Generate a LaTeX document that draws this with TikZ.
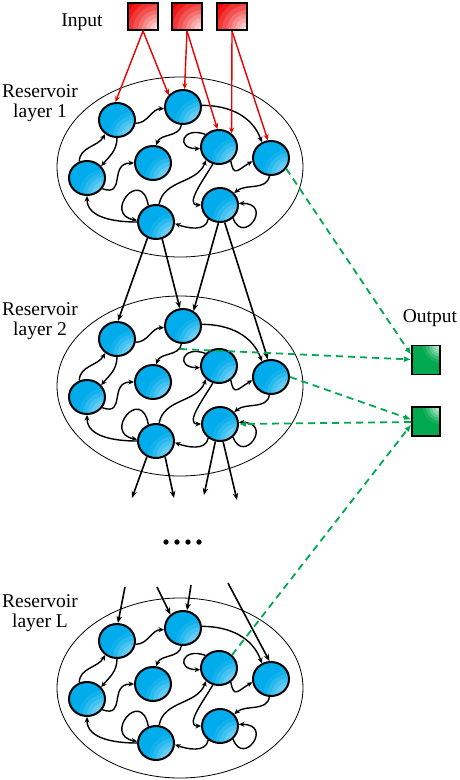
\documentclass[tikz,border=0pt]{standalone}
\usepackage{fontspec}
\setmainfont{Liberation Serif}
\usetikzlibrary{arrows.meta,shapes.geometric}

\definecolor{cellblue}{RGB}{0,172,236}
\definecolor{cellpale}{RGB}{200,236,252}
\definecolor{inred}{RGB}{238,0,0}
\definecolor{inpale}{RGB}{255,240,240}
\definecolor{outgreen}{RGB}{0,168,78}
\definecolor{outpale}{RGB}{225,248,232}
\definecolor{readgreen}{RGB}{0,168,80}

\tikzstyle{cell} = [ellipse, minimum width=36pt, minimum height=34pt, inner sep=0pt, draw=black, line width=2pt, fill=cellblue, path picture={\foreach \rr/\pp in {26/8,22/20,18/34,14/48,10/62,6/78} \fill[cellpale!\pp!cellblue] (path picture bounding box.south east) circle (\rr);}]
\tikzstyle{inbox} = [rectangle, minimum width=30pt, minimum height=27pt, draw=black, line width=2pt, fill=inred, path picture={\foreach \rr/\pp in {40/0,35/10,30/22,25/34,20/46,16/58,12/70,8/82,4/92} \fill[inpale!\pp!inred] (path picture bounding box.south east) circle (\rr);}]
\tikzstyle{outbox} = [rectangle, minimum width=28pt, minimum height=29pt, draw=black, line width=1.8pt, fill=outgreen, path picture={\foreach \rr/\pp in {17/10,14/25,11/42,8/60,5/78,2/90} \fill[outpale!\pp!outgreen] (path picture bounding box.north east) circle (\rr);}]
\tikzstyle{layertext} = [align=center, font=\fontsize{19.5}{20.5}\selectfont]
\tikzstyle{link} = [line width=1.4pt, ->, >={Stealth[length=5.5pt,width=5pt]}]
\tikzstyle{feed} = [line width=1.4pt, red!92!black, ->, >={Stealth[length=6pt,width=5pt]}]
\tikzstyle{deep} = [line width=1.6pt, ->, >={Stealth[length=7pt,width=5.5pt]}]
\tikzstyle{readout} = [line width=1.8pt, readgreen, dash pattern=on 7pt off 5pt, ->, >={Latex[length=7pt,width=6pt]}]

\begin{document}
\begin{tikzpicture}[x=1pt, y=1pt]
    \useasboundingbox (0,0) rectangle (460,-780);

    % Reservoir layers
    \foreach \l/\yc in {1/167,2/386,L/688}{
        \begin{scope}[shift={(180,-\yc)}]
            \draw [line width=0.8pt] (0,0) ellipse (123 and 90);
            \node (a\l) [cell] at (-63,47) {};
            \node (b\l) [cell] at (3,60) {};
            \node (c\l) [cell] at (-27,4) {};
            \node (d\l) [cell] at (-93,-11) {};
            \node (e\l) [cell] at (39,20) {};
            \node (f\l) [cell] at (91,9) {};
            \node (g\l) [cell] at (-24,-55) {};
            \node (h\l) [cell] at (40,-38) {};

            \draw [link] (a\l.-10) to[out=0,in=180] (b\l.185);
            \draw [link] (b\l.-95) to[out=-100,in=70] (c\l.80);
            \draw [link] (b\l.5) to[out=0,in=110] (f\l.120);
            \draw [link] (d\l.115) to[out=90,in=-120] (a\l.-130);
            \draw [link] (a\l.-90) to[out=-90,in=50] (d\l.40);
            \draw [link] (d\l.-35) to[out=-20,in=180,looseness=1.6] (c\l.180);
            \draw [link] (g\l.180) to[out=180,in=-90] (d\l.-90);
            \draw [link] (g\l.115) .. controls +(100:40) and +(170:35) .. (g\l.175);
            \draw [link] (g\l.80) to[out=80,in=-110] (e\l.-135);
            \draw [link] (h\l.-130) to[out=-100,in=-20] (g\l.-5);
            \draw [link] (e\l.137) .. controls +(160:25) and +(180:25) .. (e\l.185);
            \draw [link] (e\l.-110) to[out=-120,in=180] (h\l.180);
            \draw [link] (e\l.-50) to[out=-80,in=-150,looseness=2] (f\l.-170);
            \draw [link] (f\l.-95) to[out=-100,in=40] (h\l.40);
            \draw [link] (h\l.-45) .. controls +(-70:30) and +(0:35) .. (h\l.5);
        \end{scope}
    }

    % Labels
    \node (input) [layertext] at (82,-22) {Input};
    \node (res1) [layertext] at (40,-103) {Reservoir\\layer 1};
    \node (res2) [layertext] at (40,-321) {Reservoir\\layer 2};
    \node (resL) [layertext] at (40,-613) {Reservoir\\layer L};
    \node (output) [layertext] at (430,-318) {Output};

    % Input and output units
    \node (in1) [inbox] at (143,-16.5) {};
    \node (in2) [inbox] at (187,-16.5) {};
    \node (in3) [inbox] at (232,-16.5) {};
    \node (out1) [outbox] at (426,-360) {};
    \node (out2) [outbox] at (426,-421.5) {};

    % Input arrows
    \draw [feed] (in1.south) -- (a1.95);
    \draw [feed] (in1.south) -- (b1.140);
    \draw [feed] (in2.south) -- (b1.85);
    \draw [feed] (in2.south) -- (e1.95);
    \draw [feed] (in3.south) -- (e1.47);
    \draw [feed] (in3.south) -- (f1.100);

    % Layer to layer
    \draw [deep] (g1.-118) -- (a2.87);
    \draw [deep] (g1.-70) -- (b2.100);
    \draw [deep] (h1.-95) -- (b2.55);
    \draw [deep] (h1.-75) -- (f2.100);

    \coordinate (down1) at (132,-498);
    \coordinate (down2) at (174,-498);
    \coordinate (down3) at (204,-495);
    \coordinate (down4) at (237,-500);
    \draw [deep] (g2.-120) -- (down1);
    \draw [deep] (g2.-60) -- (down2);
    \draw [deep] (h2.-105) -- (down3);
    \draw [deep] (h2.-80) -- (down4);

    \foreach \x in {166,177,188,199}
        \fill (\x,-542) circle (2.7);

    \coordinate (up1) at (125,-587);
    \coordinate (up2) at (157,-587);
    \coordinate (up3) at (191,-585);
    \coordinate (up4) at (228,-583);
    \draw [deep] (up1) -- (aL.87);
    \draw [deep] (up2) -- (bL.133);
    \draw [deep] (up3) -- (bL.77);
    \draw [deep] (up4) -- (fL.95);

    % Readout arrows
    \coordinate (tap2) at (180,-349);
    \draw [readout] (f1.-35) -- (out1.160);
    \draw [readout] (tap2) -- (out1.178);
    \draw [readout] (f2.0) -- (out2.172);
    \draw [readout] (out2.182) -- (h2.0);
    \draw [readout] (eL.45) -- (out2.192);

\end{tikzpicture}
\end{document}
